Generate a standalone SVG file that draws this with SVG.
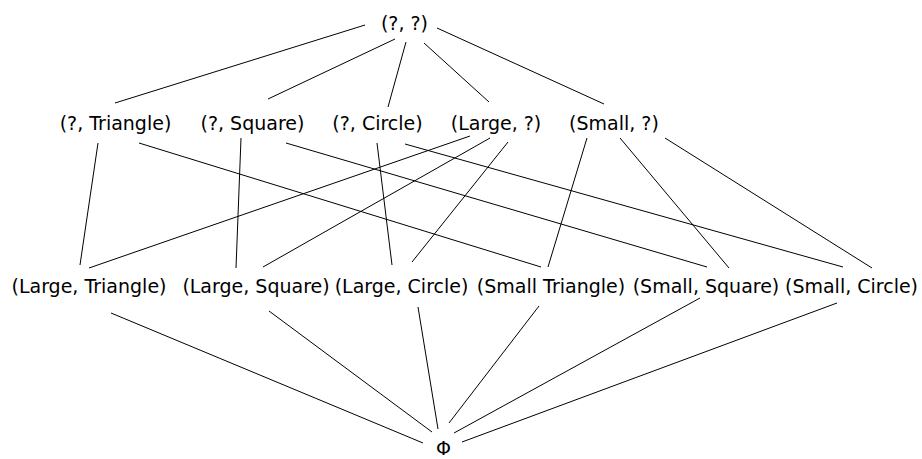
<svg xmlns="http://www.w3.org/2000/svg" width="922" height="459" viewBox="0 0 922 459">
  <style>
    .lbl { font-family: "DejaVu Sans", Verdana, sans-serif; font-size: 19px; fill: #000; text-anchor: middle; }
    .edge { stroke: #000; stroke-width: 1; fill: none; }
  </style>
  <rect width="922" height="459" fill="#fff"/>

  <!-- lattice edges -->
  <g id="connectors" class="edge">
    <!-- top to first level -->
    <line x1="365" y1="25" x2="115" y2="103"/>
    <line x1="395" y1="39" x2="268" y2="99"/>
    <line x1="406" y1="42" x2="388" y2="107"/>
    <line x1="424" y1="43" x2="489" y2="102"/>
    <line x1="437" y1="28" x2="604" y2="104"/>
    <!-- first level to second level -->
    <line x1="98" y1="143" x2="80" y2="265"/>
    <line x1="139" y1="143" x2="541" y2="267"/>
    <line x1="241" y1="138" x2="236" y2="268"/>
    <line x1="286" y1="143" x2="707" y2="267"/>
    <line x1="377" y1="143" x2="392" y2="265"/>
    <line x1="405" y1="144" x2="843" y2="267"/>
    <line x1="470" y1="136" x2="89" y2="268"/>
    <line x1="490" y1="138" x2="263" y2="267"/>
    <line x1="508" y1="142" x2="412" y2="262"/>
    <line x1="587" y1="138" x2="548" y2="267"/>
    <line x1="620" y1="138" x2="729" y2="268"/>
    <line x1="665" y1="138" x2="872" y2="268"/>
    <!-- second level to bottom -->
    <line x1="111" y1="313" x2="423" y2="443"/>
    <line x1="269" y1="311" x2="432" y2="432"/>
    <line x1="418" y1="307" x2="438" y2="429"/>
    <line x1="539" y1="306" x2="449" y2="423"/>
    <line x1="700" y1="298" x2="454" y2="433"/>
    <line x1="837" y1="303" x2="462" y2="442"/>
  </g>

  <g id="n-top"><text class="lbl" x="404.5" y="30">(?, ?)</text></g>

  <g id="n-q-triangle"><text class="lbl" x="115.5" y="130">(?, Triangle)</text></g>
  <g id="n-q-square"><text class="lbl" x="252.5" y="130">(?, Square)</text></g>
  <g id="n-q-circle"><text class="lbl" x="377.5" y="130">(?, Circle)</text></g>
  <g id="n-large-q"><text class="lbl" x="496" y="130">(Large, ?)</text></g>
  <g id="n-small-q"><text class="lbl" x="614" y="130">(Small, ?)</text></g>

  <g id="n-large-triangle"><text class="lbl" x="89" y="293">(Large, Triangle)</text></g>
  <g id="n-large-square"><text class="lbl" x="256" y="293">(Large, Square)</text></g>
  <g id="n-large-circle"><text class="lbl" x="401.5" y="293">(Large, Circle)</text></g>
  <g id="n-small-triangle"><text class="lbl" x="551" y="293">(Small Triangle)</text></g>
  <g id="n-small-square"><text class="lbl" x="706" y="293">(Small, Square)</text></g>
  <g id="n-small-circle"><text class="lbl" x="851.5" y="293">(Small, Circle)</text></g>

  <g id="n-bottom"><text class="lbl" x="443.5" y="455">Φ</text></g>
</svg>
